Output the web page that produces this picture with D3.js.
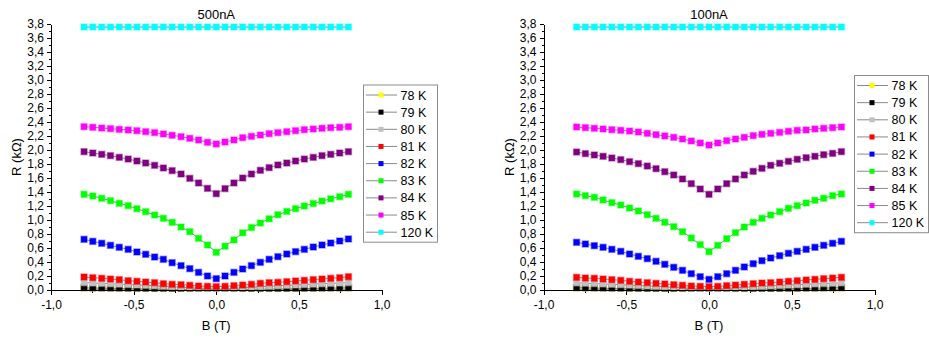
<!DOCTYPE html>
<html>
<head>
<meta charset="utf-8">
<script src="https://cdnjs.cloudflare.com/ajax/libs/d3/7.8.5/d3.min.js"></script>
<style>
  body { margin: 0; background: #fff; }
  svg { display: block; font-family: "Liberation Sans", Arial, sans-serif; }
  .axis path, .axis line { stroke: #000; stroke-width: 1; shape-rendering: crispEdges; }
  .axis text { font-size: 12px; fill: #000; }
</style>
</head>
<body>
<div id="chart"></div>
<script>
'use strict';

// magnetic field B (T), same for every curve
var bField = [-0.800, -0.747, -0.693, -0.640, -0.587, -0.533, -0.480, -0.427, -0.373, -0.320, -0.267,
  -0.213, -0.160, -0.107, -0.053, 0.000, 0.053, 0.107, 0.160, 0.213, 0.267, 0.320, 0.373, 0.427,
  0.480, 0.533, 0.587, 0.640, 0.693, 0.747, 0.800];

var temps = ['78 K', '79 K', '80 K', '81 K', '82 K', '83 K', '84 K', '85 K', '120 K'];
var panelTitles = ['500nA', '100nA'];
var xTicks = [-1.0, -0.5, 0.0, 0.5, 1.0];
var yTicks = [0.0, 0.2, 0.4, 0.6, 0.8, 1.0, 1.2, 1.4, 1.6, 1.8, 2.0, 2.2, 2.4, 2.6, 2.8, 3.0, 3.2, 3.4, 3.6, 3.8];

// R (kOhm) at 500nA
var r500K78 = [0.004, 0.004, 0.003, 0.003, 0.003, 0.002, 0.002, 0.002, 0.001, 0.001, 0.001, 0.001, 0.000, 0.000, 0.000, 0.000,
  0.000, 0.000, 0.000, 0.001, 0.001, 0.001, 0.001, 0.002, 0.002, 0.002, 0.003, 0.003, 0.003, 0.004, 0.004];
var r500K79 = [0.030, 0.028, 0.026, 0.024, 0.022, 0.020, 0.018, 0.016, 0.014, 0.012, 0.010, 0.008, 0.006, 0.004, 0.003, 0.002,
  0.003, 0.004, 0.006, 0.008, 0.010, 0.012, 0.014, 0.016, 0.018, 0.020, 0.022, 0.024, 0.026, 0.028, 0.030];
var r500K80 = [0.105, 0.100, 0.095, 0.090, 0.084, 0.078, 0.072, 0.066, 0.060, 0.053, 0.046, 0.039, 0.031, 0.023, 0.016, 0.011,
  0.016, 0.023, 0.031, 0.039, 0.046, 0.053, 0.060, 0.066, 0.072, 0.078, 0.084, 0.090, 0.095, 0.100, 0.105];
var r500K81 = [0.186, 0.176, 0.167, 0.157, 0.148, 0.133, 0.124, 0.114, 0.105, 0.090, 0.081, 0.076, 0.067, 0.057, 0.052, 0.048,
  0.052, 0.062, 0.071, 0.081, 0.095, 0.105, 0.110, 0.119, 0.129, 0.138, 0.148, 0.157, 0.167, 0.176, 0.190];
var r500K82 = [0.724, 0.695, 0.667, 0.638, 0.610, 0.581, 0.543, 0.510, 0.471, 0.438, 0.390, 0.348, 0.305, 0.252, 0.200, 0.162,
  0.200, 0.252, 0.300, 0.348, 0.395, 0.438, 0.476, 0.514, 0.548, 0.581, 0.614, 0.643, 0.671, 0.700, 0.729];
var r500K83 = [1.367, 1.343, 1.310, 1.276, 1.238, 1.205, 1.161, 1.119, 1.071, 1.024, 0.967, 0.900, 0.833, 0.738, 0.643, 0.538,
  0.626, 0.715, 0.817, 0.893, 0.957, 1.017, 1.075, 1.122, 1.162, 1.200, 1.235, 1.271, 1.302, 1.333, 1.367];
var r500K84 = [1.976, 1.957, 1.938, 1.919, 1.895, 1.871, 1.843, 1.814, 1.781, 1.743, 1.705, 1.657, 1.595, 1.529, 1.452, 1.376,
  1.448, 1.529, 1.600, 1.657, 1.710, 1.748, 1.786, 1.814, 1.843, 1.871, 1.895, 1.919, 1.938, 1.957, 1.976];
var r500K85 = [2.333, 2.324, 2.314, 2.305, 2.295, 2.286, 2.276, 2.262, 2.248, 2.229, 2.210, 2.190, 2.167, 2.143, 2.110, 2.086,
  2.114, 2.143, 2.176, 2.195, 2.214, 2.233, 2.248, 2.262, 2.276, 2.290, 2.300, 2.310, 2.319, 2.324, 2.333];
var r500K120 = [3.757, 3.757, 3.757, 3.757, 3.757, 3.757, 3.757, 3.757, 3.757, 3.757, 3.757, 3.757, 3.757, 3.757, 3.757, 3.757,
  3.757, 3.757, 3.757, 3.757, 3.757, 3.757, 3.757, 3.757, 3.757, 3.757, 3.757, 3.757, 3.757, 3.757, 3.757];

// R (kOhm) at 100nA
var r100K78 = [0.004, 0.004, 0.003, 0.003, 0.003, 0.002, 0.002, 0.002, 0.001, 0.001, 0.001, 0.001, 0.000, 0.000, 0.000, 0.000,
  0.000, 0.000, 0.000, 0.001, 0.001, 0.001, 0.001, 0.002, 0.002, 0.002, 0.003, 0.003, 0.003, 0.004, 0.004];
var r100K79 = [0.032, 0.030, 0.027, 0.025, 0.023, 0.021, 0.019, 0.016, 0.014, 0.012, 0.010, 0.008, 0.006, 0.004, 0.003, 0.002,
  0.003, 0.004, 0.006, 0.008, 0.010, 0.012, 0.014, 0.016, 0.019, 0.021, 0.023, 0.025, 0.027, 0.030, 0.032];
var r100K80 = [0.102, 0.097, 0.092, 0.087, 0.082, 0.076, 0.070, 0.064, 0.058, 0.051, 0.045, 0.038, 0.030, 0.022, 0.015, 0.010,
  0.015, 0.022, 0.030, 0.038, 0.045, 0.051, 0.058, 0.064, 0.070, 0.076, 0.082, 0.087, 0.092, 0.097, 0.102];
var r100K81 = [0.181, 0.171, 0.167, 0.157, 0.148, 0.138, 0.124, 0.114, 0.105, 0.095, 0.086, 0.076, 0.067, 0.057, 0.052, 0.048,
  0.052, 0.062, 0.071, 0.081, 0.090, 0.100, 0.105, 0.114, 0.124, 0.133, 0.143, 0.152, 0.162, 0.171, 0.181];
var r100K82 = [0.681, 0.657, 0.633, 0.610, 0.581, 0.552, 0.514, 0.481, 0.448, 0.410, 0.367, 0.324, 0.281, 0.233, 0.190, 0.152,
  0.190, 0.233, 0.281, 0.329, 0.376, 0.419, 0.457, 0.490, 0.524, 0.552, 0.581, 0.610, 0.638, 0.667, 0.695];
var r100K83 = [1.371, 1.348, 1.324, 1.286, 1.248, 1.214, 1.171, 1.129, 1.076, 1.024, 0.967, 0.905, 0.833, 0.743, 0.648, 0.548,
  0.638, 0.733, 0.819, 0.900, 0.967, 1.024, 1.071, 1.119, 1.167, 1.205, 1.243, 1.281, 1.310, 1.348, 1.371];
var r100K84 = [1.971, 1.948, 1.929, 1.910, 1.886, 1.862, 1.833, 1.805, 1.771, 1.733, 1.690, 1.643, 1.586, 1.519, 1.443, 1.367,
  1.443, 1.519, 1.586, 1.643, 1.695, 1.738, 1.781, 1.810, 1.838, 1.867, 1.890, 1.910, 1.933, 1.952, 1.976];
var r100K85 = [2.329, 2.319, 2.310, 2.300, 2.290, 2.281, 2.271, 2.257, 2.238, 2.219, 2.200, 2.181, 2.157, 2.129, 2.100, 2.071,
  2.100, 2.133, 2.157, 2.181, 2.205, 2.224, 2.238, 2.252, 2.267, 2.281, 2.286, 2.300, 2.310, 2.319, 2.329];
var r100K120 = [3.757, 3.757, 3.757, 3.757, 3.757, 3.757, 3.757, 3.757, 3.757, 3.757, 3.757, 3.757, 3.757, 3.757, 3.757, 3.757,
  3.757, 3.757, 3.757, 3.757, 3.757, 3.757, 3.757, 3.757, 3.757, 3.757, 3.757, 3.757, 3.757, 3.757, 3.757];

var colors = ['#ffff00', '#000000', '#c0c0c0', '#ff0000', '#0000ff', '#00ff00', '#800080', '#ff00ff', '#00ffff'];

var panels = [
  { series: [r500K78, r500K79, r500K80, r500K81, r500K82, r500K83, r500K84, r500K85, r500K120],
    left: 51, right: 381.5, legendX: 363.5, legendY: 85 },
  { series: [r100K78, r100K79, r100K80, r100K81, r100K82, r100K83, r100K84, r100K85, r100K120],
    left: 543.5, right: 874.5, legendX: 854.5, legendY: 75.5 }
];

var width = 929, height = 340;
var plotTop = 24, plotBottom = 290;
// Origin style labels: decimal comma, plain hyphen
var fmt = function (d) { return d.toFixed(1).replace('.', ','); };

var svg = d3.select('#chart').append('svg')
    .attr('width', width)
    .attr('height', height);

panels.forEach(function (p, pi) {
  var x = d3.scaleLinear().domain([-1, 1]).range([p.left, p.right]);
  var y = d3.scaleLinear().domain([0, 3.8]).range([plotBottom, plotTop]);
  var g = svg.append('g');

  svg.append('defs').append('clipPath')
      .attr('id', 'clip' + pi)
    .append('rect')
      .attr('x', p.left)
      .attr('y', plotTop - 6)
      .attr('width', p.right - p.left)
      .attr('height', plotBottom - plotTop + 7.5);

  // minor ticks
  g.append('g')
      .attr('class', 'axis')
      .attr('transform', 'translate(' + p.left + ',0)')
      .call(d3.axisLeft(y).tickValues(d3.range(0.1, 3.8, 0.2)).tickSize(2).tickFormat(''))
      .call(function (s) { s.select('.domain').remove(); });
  g.append('g')
      .attr('class', 'axis')
      .attr('transform', 'translate(0,' + plotBottom + ')')
      .call(d3.axisBottom(x).tickValues([-0.75, -0.25, 0.25, 0.75]).tickSize(3).tickFormat(''))
      .call(function (s) { s.select('.domain').remove(); });

  // major axes
  g.append('g')
      .attr('class', 'axis')
      .attr('transform', 'translate(' + p.left + ',0)')
      .call(d3.axisLeft(y).tickValues(yTicks).tickSize(4).tickPadding(3).tickSizeOuter(0).tickFormat(fmt));
  g.append('g')
      .attr('class', 'axis')
      .attr('transform', 'translate(0,' + plotBottom + ')')
      .call(d3.axisBottom(x).tickValues(xTicks).tickSize(5).tickPadding(5).tickSizeOuter(0).tickFormat(fmt));

  // data: line + square symbol, 78 K drawn first
  var plot = g.append('g').attr('clip-path', 'url(#clip' + pi + ')');
  var line = d3.line()
      .x(function (d, i) { return x(bField[i]); })
      .y(function (d) { return y(d); });

  p.series.forEach(function (vals, si) {
    plot.append('path')
        .attr('d', line(vals))
        .attr('fill', 'none')
        .attr('stroke', '#8a8a8a')
        .attr('stroke-width', 1);
    plot.append('g').selectAll('rect')
        .data(vals)
        .enter()
        .append('rect')
        .attr('x', function (d, i) { return x(bField[i]) - 3; })
        .attr('y', function (d) { return y(d) - 3; })
        .attr('width', 6)
        .attr('height', 6)
        .attr('fill', colors[si])
        .attr('stroke', colors[si])
        .attr('stroke-opacity', 0.4)
        .attr('stroke-width', 1.5);
  });

  // redraw bottom axis line above the markers
  g.append('line')
      .attr('x1', p.left).attr('x2', p.right)
      .attr('y1', plotBottom + 0.5).attr('y2', plotBottom + 0.5)
      .attr('stroke', '#000');

  var mid = (p.left + p.right) / 2;
  g.append('text')
      .attr('x', mid)
      .attr('y', 18.5)
      .attr('text-anchor', 'middle')
      .style('font-size', '13px')
      .text(panelTitles[pi]);

  g.append('text')
      .attr('x', mid)
      .attr('y', 330)
      .attr('text-anchor', 'middle')
      .style('font-size', '13px')
      .text('B (T)');

  g.append('text')
      .attr('transform', 'translate(' + (p.left - 30) + ',' + ((plotTop + plotBottom) / 2) + ') rotate(-90)')
      .attr('text-anchor', 'middle')
      .style('font-size', '13px')
      .text('R (k\u03A9)');

  // legend
  var rowH = 17.15;
  var legend = g.append('g').attr('transform', 'translate(' + p.legendX + ',' + p.legendY + ')');
  legend.append('rect')
      .attr('x', 0)
      .attr('y', 0)
      .attr('width', 74)
      .attr('height', rowH * 8 + 20)
      .attr('fill', '#fff')
      .attr('stroke', '#8c8c8c')
      .attr('stroke-width', 1);
  var rows = legend.selectAll('.row')
      .data(temps)
      .enter()
      .append('g')
      .attr('class', 'row')
      .attr('transform', function (d, i) { return 'translate(0,' + (10 + i * rowH) + ')'; });
  rows.append('line')
      .attr('x1', 2.5).attr('x2', 33.5)
      .attr('y1', 0).attr('y2', 0)
      .attr('stroke', '#8a8a8a');
  rows.append('rect')
      .attr('x', 15)
      .attr('y', -2.5)
      .attr('width', 5)
      .attr('height', 5)
      .attr('fill', function (d, i) { return colors[i]; });
  rows.append('text')
      .attr('x', 37)
      .attr('y', 4.5)
      .style('font-size', '12.5px')
      .text(function (d) { return d; });
});
</script>
</body>
</html>
